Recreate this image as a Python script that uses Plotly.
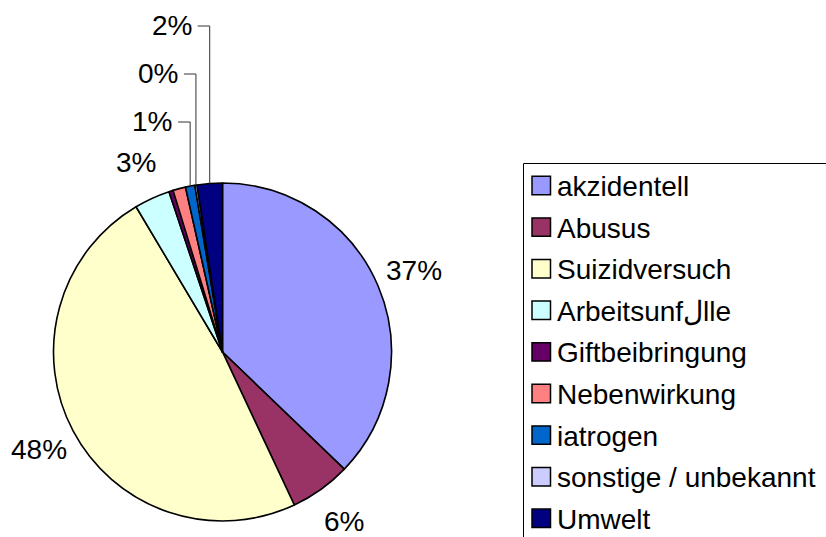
import math
import plotly.graph_objects as go

# ---- data ----
categories = ["akzidentell", "Abusus", "Suizidversuch", "Arbeitsunf\u0644lle",
              "Giftbeibringung", "Nebenwirkung", "iatrogen",
              "sonstige / unbekannt", "Umwelt"]
values = [37.0, 5.8, 48.2, 3.4, 0.4, 1.2, 0.9, 0.2, 2.4]
colors = ["#9999FF", "#993366", "#FFFFCC", "#CCFFFF", "#660066",
          "#FF8080", "#0066CC", "#CCCCFF", "#000080"]
# how each slice's percentage label is shown: "radial", "leader" or None
label_mode = ["radial", "radial", "radial", "radial", None, None,
              "leader", "leader", "leader"]

# ---- layout constants (pixels) ----
W, H = 826, 537
CX, CY, R = 222.5, 352.0, 169.0
LABEL_R = 208.0
LEADER_Y = {6: 122, 7: 74, 8: 26}
FONT = "Liberation Sans, Arial, sans-serif"
FS = 28


def px(x):
    return x / W


def py(y):
    return 1 - y / H


fig = go.Figure(go.Pie(
    labels=categories, values=values, sort=False, direction="clockwise",
    rotation=0, textinfo="none", hoverinfo="label+percent",
    marker=dict(colors=colors, line=dict(color="black", width=1.6)),
    domain=dict(x=[px(CX - R), px(CX + R)], y=[py(CY + R), py(CY - R)]),
    showlegend=False,
))

annotations = []
shapes = []
total = sum(values)
cum = 0.0
for i, v in enumerate(values):
    frac = v / total
    mid = (cum + frac / 2) * 2 * math.pi
    cum += frac
    txt = f"{round(frac * 100)}%"
    mode = label_mode[i]
    if mode == "radial":
        x = CX + LABEL_R * math.sin(mid)
        y = CY - LABEL_R * math.cos(mid)
        annotations.append(dict(x=px(x), y=py(y), xref="paper", yref="paper",
                                text=txt, showarrow=False, xanchor="center",
                                yanchor="middle",
                                font=dict(family=FONT, size=FS, color="black")))
    elif mode == "leader":
        xm = CX + R * math.sin(mid)
        ye = CY - R * math.cos(mid)
        yl = LEADER_Y[i]
        annotations.append(dict(x=px(xm - 16), y=py(yl), xref="paper",
                                yref="paper", text=txt, showarrow=False,
                                xanchor="right", yanchor="middle",
                                font=dict(family=FONT, size=FS, color="black")))
        shapes.append(dict(type="path", xref="paper", yref="paper",
                           path=f"M {px(xm - 12)} {py(yl)} L {px(xm)} {py(yl)} L {px(xm)} {py(ye)}",
                           line=dict(color="#333333", width=1)))

# ---- manual legend ----
LEG_X0, LEG_Y0 = 523.5, 163.5
ROW0, ROW_STEP = 185.5, 41.6
shapes.append(dict(type="rect", xref="paper", yref="paper",
                   x0=px(LEG_X0), x1=px(W + 10), y0=py(LEG_Y0), y1=py(H + 10),
                   line=dict(color="black", width=1), fillcolor="rgba(0,0,0,0)"))
for i, (cat, col) in enumerate(zip(categories, colors)):
    yc = ROW0 + i * ROW_STEP
    shapes.append(dict(type="rect", xref="paper", yref="paper",
                       x0=px(532), x1=px(550.5), y0=py(yc - 9.2), y1=py(yc + 9.2),
                       fillcolor=col, line=dict(color="black", width=1.5)))
    annotations.append(dict(x=px(555), y=py(yc + 1), xref="paper", yref="paper",
                            text=cat, showarrow=False, xanchor="left",
                            yanchor="middle",
                            font=dict(family=FONT, size=FS, color="black")))

fig.update_layout(
    width=W, height=H, margin=dict(l=0, r=0, t=0, b=0),
    paper_bgcolor="white", plot_bgcolor="white",
    annotations=annotations, shapes=shapes,
    font=dict(family=FONT, size=FS, color="black"),
)

fig.write_html(
    "out.html",
    config={"displayModeBar": False},
    post_script="document.body.style.margin='0';document.body.style.padding='0';"
                "document.body.style.overflow='hidden';",
)
